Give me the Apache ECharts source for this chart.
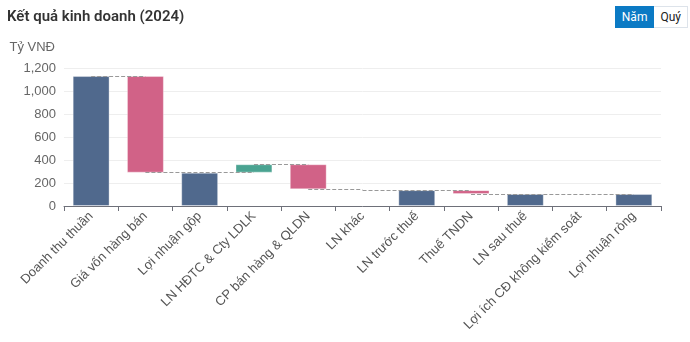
<!DOCTYPE html>
<html>
<head>
<meta charset="utf-8">
<script src="https://cdn.jsdelivr.net/npm/echarts@6/dist/echarts.min.js"></script>
<style>
html,body{margin:0;padding:0;background:#fff;}
#wrap{position:relative;width:690px;height:342px;}
#chart{position:absolute;left:0;top:0;width:690px;height:342px;}
.btns{position:absolute;right:2px;top:6px;display:flex;font-family:Roboto,"Noto Sans",sans-serif;font-size:12px;z-index:2;}
.btns div{height:20px;line-height:20px;padding:0 6px;border:1px solid #dde3ea;}
.btns .on{background:#0b7ac4;color:#fff;border-color:#0b7ac4;}
.btns .off{background:#fff;color:#222;border-left:none;}
</style>
</head>
<body>
<div id="wrap">
<div class="btns"><div class="on">Năm</div><div class="off">Quý</div></div>
<div id="chart"></div>
</div>
<script>
const categories = ['Doanh thu thuần','Giá vốn hàng bán','Lợi nhuận gộp','LN HĐTC & Cty LDLK','CP bán hàng & QLDN','LN khác','LN trước thuế','Thuế TNDN','LN sau thuế','Lợi ích CĐ không kiểm soát','Lợi nhuận ròng'];
// delta values (for totals: the total value)
const values = [1130, -840, 290, 73, -218, -7, 138, -33, 105, -1, 104];
const isTotal = [true, false, true, false, false, false, true, false, true, false, true];
const yTicks = [0, 200, 400, 600, 800, 1000, 1200];

const colTotal = '#50698d', colDown = '#d16287', colUp = '#4aa391';

const base = [], bar = [], levels = [];
let run = 0;
values.forEach((v, i) => {
  if (isTotal[i]) {
    run = v;
    base.push(0);
    bar.push({value: v, itemStyle: {color: colTotal}});
  } else {
    const start = run, end = run + v;
    base.push(Math.min(start, end));
    bar.push({value: Math.abs(v), itemStyle: {color: v < 0 ? colDown : colUp}});
    run = end;
  }
  levels.push(run);
});
const segs = [];
for (let i = 0; i < categories.length - 1; i++) {
  segs.push([{coord: [i, levels[i]]}, {coord: [i + 1, levels[i]]}]);
}

const chart = echarts.init(document.getElementById('chart'), null, {renderer: 'canvas'});
chart.setOption({
  animation: false,
  textStyle: {fontFamily: '"Liberation Sans", Arial, sans-serif'},
  title: {text: 'Kết quả kinh doanh (2024)', left: 2, top: 5,
    textStyle: {fontSize: 15, fontWeight: 600, color: '#333', fontFamily: 'Roboto, sans-serif'}},
  grid: {left: 64, right: 29, top: 68, bottom: 136, containLabel: false},
  xAxis: {type: 'category', data: categories,
    axisLine: {lineStyle: {color: '#6e7079'}},
    axisTick: {show: true, alignWithLabel: false, length: 5, lineStyle: {color: '#6e7079'}},
    axisLabel: {rotate: 45, interval: 0, fontSize: 13, color: '#555', margin: 8}},
  yAxis: {type: 'value', min: 0, max: 1200, interval: 200,
    name: 'Tỷ VNĐ', nameLocation: 'end', nameGap: 14,
    nameTextStyle: {color: '#666', fontSize: 13, align: 'right', padding: [0, 9, 0, 0]},
    axisLine: {show: false}, axisTick: {show: false},
    axisLabel: {fontSize: 13, color: '#666', margin: 8,
      formatter: v => yTicks.includes(v) ? v.toLocaleString('en-US') : ''},
    splitLine: {lineStyle: {color: '#eeeeee'}}},
  series: [
    {type: 'bar', stack: 'w', data: base, barWidth: '68%',
      itemStyle: {color: 'transparent'}, silent: true},
    {type: 'bar', stack: 'w', data: bar, barWidth: '68%',
      itemStyle: {borderColor: 'rgba(255,255,255,0.35)', borderWidth: 1},
      markLine: {symbol: 'none', silent: true, label: {show: false},
        lineStyle: {type: 'dashed', color: '#999', width: 1}, data: segs}}
  ]
});
</script>
</body>
</html>
